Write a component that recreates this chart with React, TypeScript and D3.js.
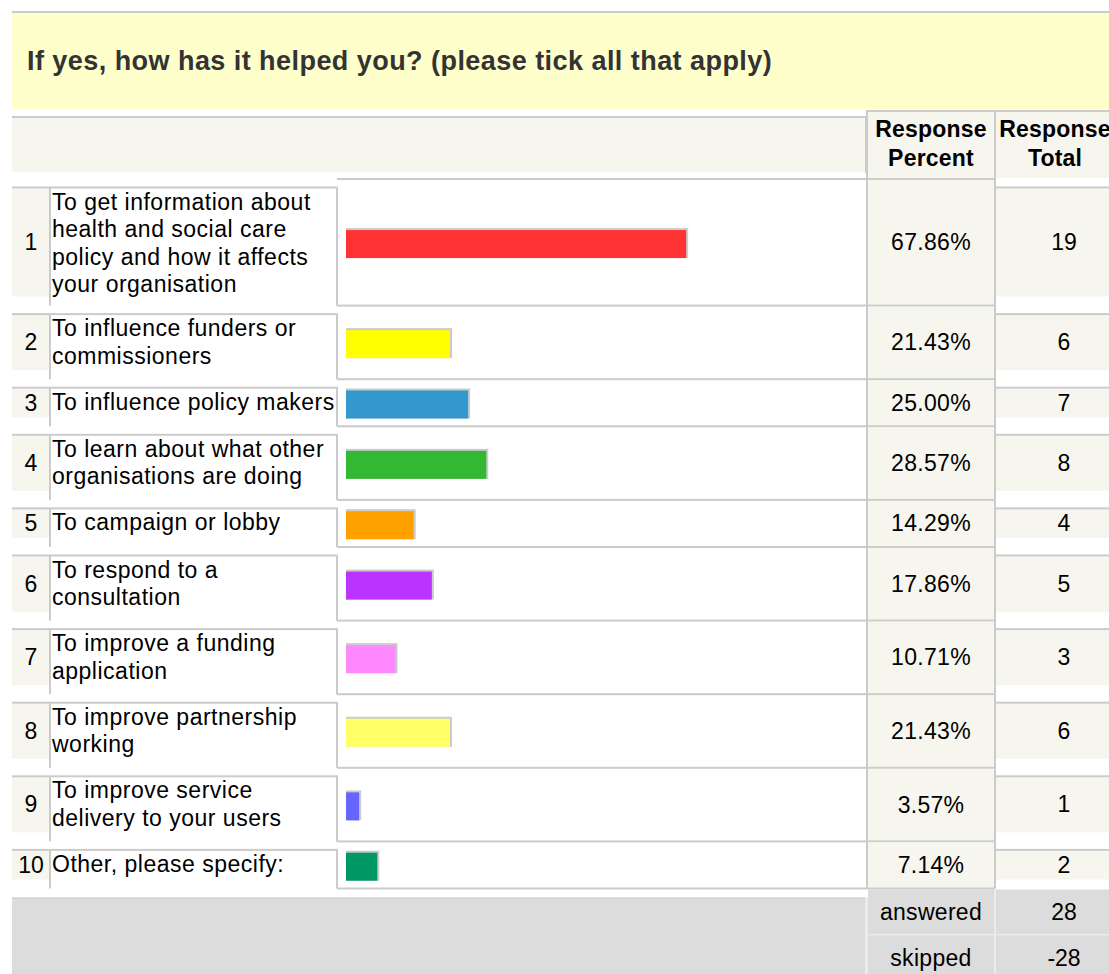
import React from "react";
import * as d3 from "d3";

const title = "If yes, how has it helped you? (please tick all that apply)";
const headerPercent = ["Response", "Percent"];
const headerTotal = ["Response", "Total"];
const labels: string[][] = [
  ["To get information about", "health and social care", "policy and how it affects", "your organisation"],
  ["To influence funders or", "commissioners"],
  ["To influence policy makers"],
  ["To learn about what other", "organisations are doing"],
  ["To campaign or lobby"],
  ["To respond to a", "consultation"],
  ["To improve a funding", "application"],
  ["To improve partnership", "working"],
  ["To improve service", "delivery to your users"],
  ["Other, please specify:"],
];
const percents = [67.86, 21.43, 25.0, 28.57, 14.29, 17.86, 10.71, 21.43, 3.57, 7.14];
const totals = [19, 6, 7, 8, 4, 5, 3, 6, 1, 2];
const barColors = ["#FF3333", "#FFFF00", "#3399CC", "#33B833", "#FFA200", "#BB33FF", "#FF88FF", "#FFFF66", "#6666FF", "#009966"];
const footerLabels = ["answered", "skipped"];
const footerValues = [28, -28];

const W = 1109;
const H = 974;
const FONT = "'Liberation Sans', Arial, Helvetica, sans-serif";
const LINE = "#CBCBCB";
const BEIGE = "#F6F6EF";
const FOOT = "#DCDCDC";

export default function App() {
  const x0 = 12;
  const numR = 49.5;
  const labelL = 50;
  const barCellL = 337;
  const pctL = 867;
  const pctR = 995;
  const totL = 996;
  const pctCx = 931;
  const totCx = 1064;
  const totHeadCx = 1055;
  const firstTop = 179;
  const barStart = 346;

  const heights = labels.map((l) => 20.6 + 26.5 * l.length);
  const tops: number[] = [];
  heights.reduce((acc, h) => {
    tops.push(acc);
    return acc + h;
  }, firstTop);
  const rows = labels.map((l, i) => {
    const T = tops[i];
    const B = T + heights[i];
    const lt = T + 8.5;
    return { T, B, lt, numC: (lt + B - 9) / 2, lines: l };
  });
  const lastB = rows[rows.length - 1].B;

  const x = d3.scaleLinear().domain([0, 100]).range([341, 849.6]);

  const fs = 23;
  const ls = 0.5;

  return (
    <svg
      width={W}
      height={H}
      style={{ position: "absolute", left: 0, top: 0, overflow: "hidden" }}
      fontFamily={FONT}
    >
      <rect x={0} y={0} width={W} height={H} fill="#FFFFFF" />
      {/* title band */}
      <rect x={x0} y={13} width={W - x0} height={96} fill="#FFFFCC" />
      <rect x={x0} y={11} width={W - x0} height={2} fill={LINE} />
      <text x={27} y={70} fontSize={27} fontWeight="bold" fill="#333333" letterSpacing={0.45}>
        {title}
      </text>

      {/* header row */}
      <rect x={x0} y={116} width={866 - x0} height={2} fill={LINE} />
      <rect x={x0} y={118} width={865 - x0} height={54} fill={BEIGE} />
      <rect x={865} y={117} width={2} height={56} fill={LINE} />
      <rect x={pctL} y={110} width={W - pctL} height={2} fill={LINE} />
      <rect x={pctL + 1} y={112} width={pctR - pctL - 1} height={66} fill={BEIGE} />
      <rect x={totL} y={112} width={W - totL} height={66} fill={BEIGE} />
      {headerPercent.map((t, i) => (
        <text key={"hp" + i} x={pctCx} y={137 + i * 29} fontSize={fs} fontWeight="bold" textAnchor="middle" fill="#000" letterSpacing={0.2}>
          {t}
        </text>
      ))}
      {headerTotal.map((t, i) => (
        <text key={"ht" + i} x={totHeadCx} y={137 + i * 29} fontSize={fs} fontWeight="bold" textAnchor="middle" fill="#000" letterSpacing={0.2}>
          {t}
        </text>
      ))}

      {/* top border of first data row */}
      <rect x={barCellL} y={firstTop - 1} width={pctR - barCellL} height={2} fill={LINE} />

      {rows.map((r, i) => {
        const barEnd = x(percents[i]);
        const barTop = r.numC + 2 - 14;
        return (
          <g key={"row" + i}>
            {/* backgrounds */}
            <rect x={x0} y={r.lt + 1} width={numR - x0} height={r.B - 9 - (r.lt + 1)} fill={BEIGE} />
            <rect x={pctL + 1} y={r.T + 1} width={pctR - pctL - 1} height={r.B - r.T - 1} fill={BEIGE} />
            <rect x={totL} y={r.lt + 1} width={W - totL} height={r.B - 9 - (r.lt + 1)} fill={BEIGE} />
            {/* lines */}
            <rect x={x0} y={r.lt - 1} width={barCellL + 1 - x0} height={2} fill={LINE} />
            <rect x={labelL - 1} y={r.lt} width={2} height={r.B - r.lt} fill={LINE} />
            <rect x={barCellL - 1} y={r.lt} width={2} height={r.B - r.lt} fill={LINE} />
            <rect x={barCellL} y={r.B - 1} width={pctR - barCellL} height={2} fill={LINE} />
            <rect x={totL} y={r.lt - 1} width={W - totL} height={2} fill={LINE} />
            {/* bar */}
            <rect x={barStart} y={barTop - 2} width={barEnd - barStart + 2} height={30} fill={LINE} />
            <rect x={barStart} y={barTop} width={barEnd - barStart} height={28} fill={barColors[i]} />
            {/* texts */}
            <text x={31} y={r.numC + 8} fontSize={fs} textAnchor="middle" fill="#000">
              {i + 1}
            </text>
            {r.lines.map((t, j) => (
              <text key={j} x={52} y={r.lt + 22 + j * 27.6} fontSize={fs} fill="#000" letterSpacing={ls}>
                {t}
              </text>
            ))}
            <text x={pctCx} y={(r.T + r.B) / 2 + 8} fontSize={fs} textAnchor="middle" fill="#000" letterSpacing={0.3}>
              {percents[i].toFixed(2) + "%"}
            </text>
            <text x={totCx} y={r.numC + 8} fontSize={fs} textAnchor="middle" fill="#000">
              {totals[i]}
            </text>
          </g>
        );
      })}

      {/* vertical column borders */}
      <rect x={pctL - 1} y={110} width={2} height={lastB - 110} fill={LINE} />
      <rect x={pctR - 1} y={110} width={2} height={lastB - 110} fill={LINE} />

      {/* footer */}
      <rect x={x0} y={lastB + 9} width={866 - x0} height={2} fill={LINE} />
      <rect x={x0} y={lastB + 11} width={865 - x0} height={H - lastB - 11} fill={FOOT} />
      {footerLabels.map((t, i) => {
        const top = lastB + 1 + i * 46;
        return (
          <g key={"f" + i}>
            <rect x={pctL + 1} y={top} width={pctR - pctL - 1} height={45} fill={FOOT} />
            <rect x={totL} y={top} width={W - totL} height={45} fill={FOOT} />
            <rect x={pctL + 1} y={top + 45} width={W - pctL} height={1.5} fill="#EBEBEB" />
            <text x={pctCx} y={top + 22.5 + 8} fontSize={fs} textAnchor="middle" fill="#000" letterSpacing={0.3}>
              {t}
            </text>
            <text x={totCx} y={top + 22.5 + 8} fontSize={fs} textAnchor="middle" fill="#000">
              {footerValues[i]}
            </text>
          </g>
        );
      })}
      <rect x={865} y={lastB + 9} width={3} height={H - lastB} fill="#EBEBEB" />
      <rect x={pctR - 1} y={lastB + 1} width={2} height={H - lastB} fill="#EBEBEB" />
    </svg>
  );
}
